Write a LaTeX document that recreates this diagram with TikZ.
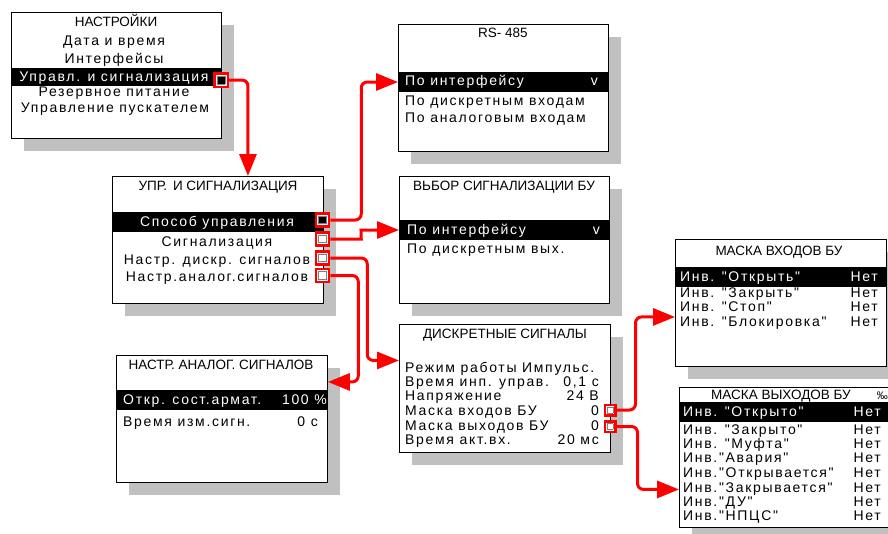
\documentclass[tikz,border=0pt]{standalone}
\usepackage{fontspec}
\setmainfont{Liberation Sans}
\newfontfamily\lcdfont[LetterSpace=12]{Liberation Sans}
\usetikzlibrary{shadows,arrows.meta}
\definecolor{shade}{RGB}{192,192,192}
\definecolor{mark}{RGB}{255,0,0}
\newcommand\sqbox[2]{{\fboxsep=0pt\fboxrule=0.8pt\fcolorbox{gray}{#1}{\rule{0pt}{#2}\hspace{#2}}}}
\tikzstyle{panel}=[draw=black,line width=0.9pt,fill=white,inner sep=0,anchor=north west,drop shadow={shadow xshift=13pt,shadow yshift=-13pt,fill=shade,opacity=1}]
\tikzstyle{band}=[fill=black,inner sep=0,anchor=west,minimum height=20]
\tikzstyle{title}=[inner sep=0,text height=8pt,text depth=0pt,font=\fontsize{13.5}{15}\selectfont]
\tikzstyle{row}=[inner sep=0,text height=8pt,text depth=0pt,font=\lcdfont\fontsize{14}{15}\selectfont]
\tikzstyle{marker}=[draw=mark,line width=2.5pt,fill=white,inner sep=0,minimum size=13]
\tikzstyle{link}=[draw=mark,line width=3pt,rounded corners=6pt,-{Triangle[length=22pt,width=17pt]}]

\begin{document}
\begin{tikzpicture}[x=1pt,y=-1pt]
	\useasboundingbox (0,0) rectangle (888,533);
	\node[panel,minimum width=210,minimum height=126] (nastr) at (11,12) {};
	\node[panel,minimum width=210,minimum height=127] (rs) at (398,24) {};
	\node[panel,minimum width=211,minimum height=127] (upr) at (112,176) {};
	\node[panel,minimum width=210,minimum height=127] (vybor) at (399,176) {};
	\node[panel,minimum width=211,minimum height=128] (diskr) at (399,324) {};
	\node[panel,minimum width=211,minimum height=127] (maskin) at (675,239) {};
	\node[panel,minimum width=215,minimum height=140] (maskout) at (679,387) {};
	\node[panel,minimum width=211,minimum height=127] (analog) at (116,355) {};

	\node[title] (n0) at (116,22) {НАСТРОЙКИ};
	\node[row] (n1) at (114,41) {Дата и время};
	\node[row] (n2) at (114,59) {Интерфейсы};
	\node[band,minimum width=210,minimum height=18] (nsel) at (11,77) {};
	\node[row,text=white] (n3) at (114,77) {Управл. и сигнализация};
	\node[row] (n4) at (114,92) {Резервное питание};
	\node[row] (n5) at (115,108) {Управление пускателем};
	\node[marker,minimum size=13.5] (m1) at (221,80) {\sqbox{black}{7pt}};

	\node[title] (r0) at (503,33) {RS- 485};
	\node[band,minimum width=210] (rsel) at (398,82) {};
	\node[row,anchor=west,text=white] (r1) at (405,81) {По интерфейсу};
	\node[row,anchor=east,text=white] (r1v) at (598,81) {v};
	\node[row,anchor=west] (r2) at (405,101) {По дискретным входам};
	\node[row,anchor=west] (r3) at (405,118) {По аналоговым входам};

	\node[title] (u0) at (218,186) {УПР.\, И СИГНАЛИЗАЦИЯ};
	\node[band,minimum width=211] (usel) at (112,222) {};
	\node[row,text=white] (u1) at (217,222) {Способ управления};
	\node[row] (u2) at (217,242) {Сигнализация};
	\node[row] (u3) at (217,260) {Настр. дискр. сигналов};
	\node[row] (u4) at (217,277) {Настр.аналог.сигналов};
	\node[marker] (m2) at (322.5,220) {\sqbox{black}{6.5pt}};
	\node[marker] (m3) at (322.5,239) {\sqbox{white}{6.5pt}};
	\node[marker] (m4) at (322.5,258) {\sqbox{white}{6.5pt}};
	\node[marker] (m5) at (322.5,275.5) {\sqbox{white}{6.5pt}};

	\node[title] (v0) at (504,186) {ВЬБОР СИГНАЛИЗАЦИИ БУ};
	\node[band,minimum width=210] (vsel) at (399,230) {};
	\node[row,anchor=west,text=white] (v1) at (407,230) {По интерфейсу};
	\node[row,anchor=east,text=white] (v1v) at (600,230) {v};
	\node[row,anchor=west] (v2) at (407,249) {По дискретным вых.};

	\node[title] (d0) at (505,334) {ДИСКРЕТНЫЕ СИГНАЛЫ};
	\node[row,anchor=west] (d1) at (405,368) {Режим работы Импульс.};
	\node[row,anchor=west] (d2) at (405,382) {Время инп. управ.};
	\node[row,anchor=east] (d2v) at (599,382) {0,1 с};
	\node[row,anchor=west] (d3) at (405,396) {Напряжение};
	\node[row,anchor=east] (d3v) at (599,396) {24 В};
	\node[row,anchor=west] (d4) at (405,411) {Маска входов БУ};
	\node[row,anchor=east] (d4v) at (599,411) {0};
	\node[row,anchor=west] (d5) at (405,426) {Маска выходов БУ};
	\node[row,anchor=east] (d5v) at (599,426) {0};
	\node[row,anchor=west] (d6) at (405,440) {Время акт.вх.};
	\node[row,anchor=east] (d6v) at (599,440) {20 мс};
	\node[marker,minimum size=10.5] (mi) at (610,410) {\sqbox{white}{5pt}};
	\node[marker,minimum size=10.5] (mo) at (610,426.5) {\sqbox{white}{5pt}};

	\node[title] (i0) at (779,251) {МАСКА ВХОДОВ БУ};
	\node[band,minimum width=211] (isel) at (675,277) {};
	\node[row,anchor=west,text=white] (i1) at (680,277) {Инв. "Открыть"};
	\node[row,anchor=east,text=white] (i1v) at (878,277) {Нет};
	\node[row,anchor=west] (i2) at (680,293) {Инв. "Закрыть"};
	\node[row,anchor=east] (i2v) at (878,293) {Нет};
	\node[row,anchor=west] (i3) at (680,307.5) {Инв. "Стоп"};
	\node[row,anchor=east] (i3v) at (878,307.5) {Нет};
	\node[row,anchor=west] (i4) at (680,322) {Инв. "Блокировка"};
	\node[row,anchor=east] (i4v) at (878,322) {Нет};

	\node[title] (o0) at (781,395) {МАСКА ВЫХОДОВ БУ};
	\node[title,anchor=east,font=\fontsize{11}{12}\selectfont] (o0p) at (888,395) {‰};
	\node[band,minimum width=215] (osel) at (679,412) {};
	\node[row,anchor=west,text=white] (o1) at (683,412) {Инв. "Открыто"};
	\node[row,anchor=east,text=white] (o1v) at (881,412) {Нет};
	\node[row,anchor=west] (o2) at (683,430) {Инв. "Закрыто"};
	\node[row,anchor=east] (o2v) at (881,430) {Нет};
	\node[row,anchor=west] (o3) at (683,444) {Инв. "Муфта"};
	\node[row,anchor=east] (o3v) at (881,444) {Нет};
	\node[row,anchor=west] (o4) at (683,458) {Инв."Авария"};
	\node[row,anchor=east] (o4v) at (881,458) {Нет};
	\node[row,anchor=west] (o5) at (683,473) {Инв."Открывается"};
	\node[row,anchor=east] (o5v) at (881,473) {Нет};
	\node[row,anchor=west] (o6) at (683,488) {Инв."Закрывается"};
	\node[row,anchor=east] (o6v) at (881,488) {Нет};
	\node[row,anchor=west] (o7) at (683,502) {Инв."ДУ"};
	\node[row,anchor=east] (o7v) at (881,502) {Нет};
	\node[row,anchor=west] (o8) at (683,516) {Инв."НПЦС"};
	\node[row,anchor=east] (o8v) at (881,516) {Нет};

	\node[title] (a0) at (221,365) {НАСТР. АНАЛОГ. СИГНАЛОВ};
	\node[band,minimum width=211] (asel) at (116,400) {};
	\node[row,anchor=west,text=white] (a1) at (123,400) {Откр. сост.армат.};
	\node[row,anchor=east,text=white] (a1v) at (327,400) {100 \%};
	\node[row,anchor=west] (a2) at (123,422) {Время изм.сигн.};
	\node[row,anchor=east] (a2v) at (318,422) {0 с};

	\draw[link] (m1.east) -| ([xshift=30pt]upr.north);
	\draw[link] (m2.east) -- ++(31,0) |- (rsel.west);
	\draw[link] (m3.east) -- ++(25,0) to[out=0,in=180] ([xshift=-32pt]vsel.west) -- (vsel.west);
	\draw[link] (m4.east) -- ++(37,0) |- ([yshift=28pt]diskr.west);
	\draw[link] (m5.east) -- ++(28,0) |- ([yshift=37pt]analog.east);
	\draw[link] (mi.east) -- ++(19,0) |- ([yshift=-14pt]maskin.west);
	\draw[link] (mo.east) -- ++(21,0) |- ([yshift=-32pt]maskout.west);
\end{tikzpicture}
\end{document}
